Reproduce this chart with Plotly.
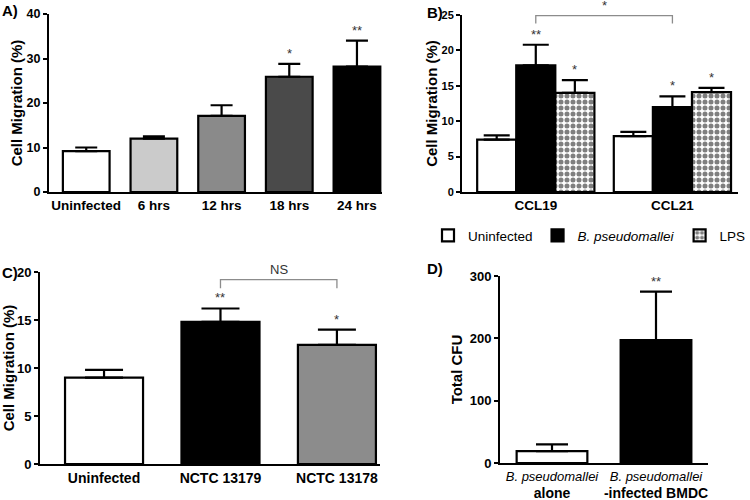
import plotly.graph_objects as go

# panel A - migration over time
a_labels = ["Uninfected", "6 hrs", "12 hrs", "18 hrs", "24 hrs"]
a_means = [9.2, 12.0, 17.1, 25.9, 28.2]
a_err = [0.8, 0.5, 2.4, 2.9, 5.8]
a_stars = ["", "", "", "*", "**"]
a_colors = ["white", "#cbcbcb", "#8a8a8a", "#4a4a4a", "black"]

# panel B - chemokines
b_groups = ["CCL19", "CCL21"]
b_uninf = [7.4, 7.9]
b_uninf_err = [0.6, 0.6]
b_bp = [17.9, 12.0]
b_bp_err = [2.9, 1.5]
b_lps = [14.0, 14.1]
b_lps_err = [1.8, 0.6]
b_bp_stars = ["**", "*"]
b_lps_stars = ["*", "*"]

# panel C - strains
c_labels = ["Uninfected", "NCTC 13179", "NCTC 13178"]
c_means = [9.0, 14.8, 12.4]
c_err = [0.8, 1.4, 1.6]
c_stars = ["", "**", "*"]
c_colors = ["white", "black", "#8c8c8c"]

# panel D - CFU
d_labels = ["<i>B. pseudomallei</i><br><b style='font-size:14px'>alone</b>",
            "<i>B. pseudomallei</i><br><b style='font-size:14px'>-infected BMDC</b>"]
d_means = [19, 197]
d_err = [11, 78]
d_stars = ["", "**"]

FONT = "Liberation Sans, Arial, sans-serif"
W, H = 750, 500


def px_x(p):
    return p / W


def px_y(p):
    return 1 - p / H


fig = go.Figure()


def add_bars(xname, yname, x, y, err, colors, width, capw, name=None,
             pattern=None, offset=None, showlegend=False):
    fig.add_trace(go.Bar(
        x=x, y=y, width=width, offset=offset, name=name,
        xaxis=xname, yaxis=yname, showlegend=showlegend,
        marker=dict(color=colors, line=dict(color="black", width=2.2),
                    pattern=pattern),
        error_y=dict(type="data", array=err, arrayminus=[0] * len(err),
                     color="black", thickness=2.2, width=capw),
    ))


add_bars("x", "y", a_labels, a_means, a_err, a_colors, 0.69, 11)
add_bars("x3", "y3", c_labels, c_means, c_err, c_colors, 0.67, 19)
add_bars("x4", "y4", d_labels, d_means, d_err, ["white", "black"], 0.68, 16)

bw = 0.286
add_bars("x2", "y2", b_groups, b_uninf, b_uninf_err, "white", bw, 13,
         name="Uninfected", offset=-1.5 * bw, showlegend=True)
add_bars("x2", "y2", b_groups, b_bp, b_bp_err, "black", bw, 13,
         name="<i>B. pseudomallei</i>", offset=-0.5 * bw, showlegend=True)
add_bars("x2", "y2", b_groups, b_lps, b_lps_err, "white", bw, 13,
         name="LPS", offset=0.5 * bw, showlegend=True,
         pattern=dict(shape=".", fgcolor="black", bgcolor="white",
                      size=6, solidity=0.55, fillmode="overlay"))

annotations = []


def add_stars(xref, yref, x, tops, stars):
    for xi, t, s in zip(x, tops, stars):
        if s:
            annotations.append(dict(
                x=xi, y=t, xref=xref, yref=yref, text=s, showarrow=False,
                yanchor="bottom", yshift=1,
                font=dict(family=FONT, size=13, color="#333333")))


add_stars("x", "y", a_labels, [m + e for m, e in zip(a_means, a_err)], a_stars)
add_stars("x3", "y3", c_labels, [m + e for m, e in zip(c_means, c_err)], c_stars)
add_stars("x4", "y4", d_labels, [m + e for m, e in zip(d_means, d_err)], d_stars)

# stars for grouped bars in B, placed by group index
for i, g in enumerate(b_groups):
    for s, m, e, off in [(b_bp_stars[i], b_bp[i], b_bp_err[i], 0),
                         (b_lps_stars[i], b_lps[i], b_lps_err[i], bw)]:
        annotations.append(dict(
            x=i + off, y=m + e, xref="x2", yref="y2", text=s, showarrow=False,
            yanchor="bottom", yshift=1,
            font=dict(family=FONT, size=13, color="#333333")))

# comparison brackets
shapes = [
    dict(type="path", xref="x2", yref="y2", path="M 0,23.8 L 0,24.9 L 1,24.9 L 1,23.8",
         line=dict(color="#8c8c8c", width=1.3)),
    dict(type="path", xref="x3", yref="y3", path="M 1,18.3 L 1,19.2 L 2,19.2 L 2,18.3",
         line=dict(color="#8c8c8c", width=1.3)),
]
annotations.append(dict(x=0.5, y=25, xref="x2", yref="y2", text="*", showarrow=False,
                        yanchor="bottom", yshift=0,
                        font=dict(family=FONT, size=13, color="#333333")))
annotations.append(dict(x=1.5, y=19.2, xref="x3", yref="y3", text="NS", showarrow=False,
                        yanchor="bottom", yshift=1,
                        font=dict(family=FONT, size=13, color="#333333")))

# panel letters
for lbl, x, y in [("A)", 0, 10), ("B)", 425, 12), ("C)", 0, 272), ("D)", 425, 268)]:
    annotations.append(dict(x=px_x(x), y=px_y(y), xref="paper", yref="paper",
                            text="<b>%s</b>" % lbl, showarrow=False,
                            xanchor="left", yanchor="middle",
                            font=dict(family=FONT, size=15, color="black")))


def tfont(size, bold=True):
    f = dict(family=FONT, size=size, color="black")
    if bold:
        f["weight"] = "bold"
    return f


xstyle = dict(showline=True, linecolor="black", linewidth=2, ticks="",
              showgrid=False, zeroline=False, type="category", automargin=False,
              tickangle=0)
ystyle = dict(showline=True, linecolor="black", linewidth=2, ticks="outside",
              ticklen=4, tickwidth=2, tickcolor="black", showgrid=False,
              zeroline=False, automargin=False,
              title_font=tfont(15))

fig.update_layout(
    width=W, height=H, margin=dict(l=0, r=0, t=0, b=0, autoexpand=False),
    paper_bgcolor="white", plot_bgcolor="white",
    barmode="overlay",
    xaxis=dict(xstyle, domain=[px_x(49), px_x(382)], anchor="y", range=[-0.55, 4.37],
               tickfont=tfont(13.5)),
    yaxis=dict(ystyle, domain=[px_y(192), px_y(14)], anchor="x", range=[0, 40],
               dtick=10, tickfont=tfont(12.5),
               title=dict(text="Cell Migration (%)", standoff=0)),
    xaxis2=dict(xstyle, domain=[px_x(462), px_x(738)], anchor="y2", range=[-0.54, 1.48],
                tickfont=tfont(13.5)),
    yaxis2=dict(ystyle, domain=[px_y(192), px_y(15)], anchor="x2", range=[0, 25],
                dtick=5, tickfont=tfont(11),
                title=dict(text="Cell Migration (%)", standoff=0)),
    xaxis3=dict(xstyle, domain=[px_x(40), px_x(380)], anchor="y3", range=[-0.55, 2.37],
                tickfont=tfont(14)),
    yaxis3=dict(ystyle, domain=[px_y(464), px_y(272)], anchor="x3", range=[0, 20],
                dtick=5, tickfont=tfont(13),
                title=dict(text="Cell Migration (%)", standoff=4)),
    xaxis4=dict(xstyle, domain=[px_x(500), px_x(708)], anchor="y4", range=[-0.5, 1.5],
                tickfont=tfont(13, bold=False)),
    yaxis4=dict(ystyle, domain=[px_y(463), px_y(276)], anchor="x4", range=[0, 300],
                dtick=100, tickfont=tfont(13),
                title=dict(text="Total CFU", standoff=3)),
    legend=dict(orientation="h", x=px_x(428), y=px_y(220), xanchor="left", yanchor="top",
                font=dict(family=FONT, size=13.5, color="black"),
                bgcolor="rgba(0,0,0,0)", itemwidth=30, tracegroupgap=0),
    shapes=shapes,
    annotations=annotations,
)

fig.write_html("out.html", config={"displayModeBar": False},
               post_script="document.body.style.margin='0px';")
